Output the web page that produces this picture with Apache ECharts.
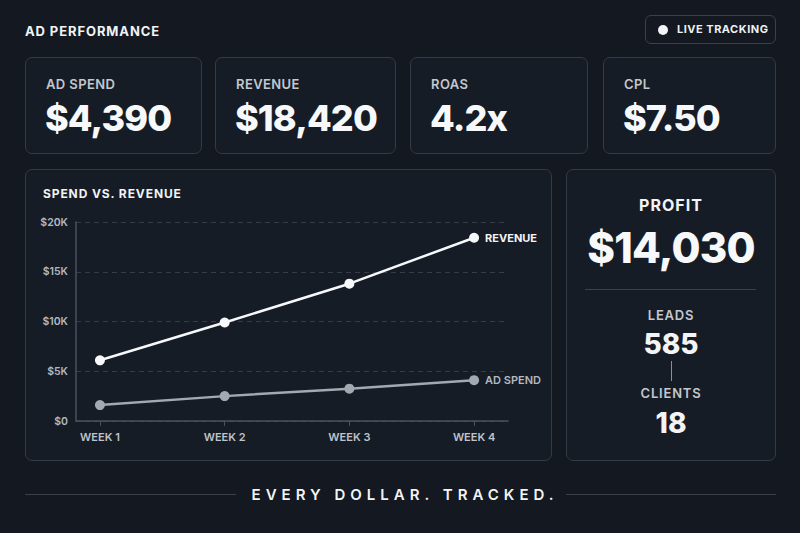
<!DOCTYPE html>
<html>
<head>
<meta charset="utf-8">
<script src="https://cdn.jsdelivr.net/npm/echarts@6/dist/echarts.min.js"></script>
<style>
  html,body{margin:0;padding:0;}
  body{width:800px;height:533px;overflow:hidden;background:#131821;font-family:Inter,"Noto Sans",sans-serif;color:#f3f4f6;position:relative;}
  .abs{position:absolute;}
  .card{position:absolute;box-sizing:border-box;border:1px solid #343b46;border-radius:7px;background:#161c26;}
  .klabel{position:absolute;left:20px;top:18px;font-size:13px;font-weight:600;color:#c3c7ce;letter-spacing:0.4px;line-height:16px;}
  .kval{position:absolute;left:19px;top:39px;font-size:36px;font-weight:800;color:#f7f8f9;line-height:42px;letter-spacing:-0.9px;}
  .center{position:absolute;left:0;width:100%;text-align:center;}
  #chart{position:absolute;left:0;top:0;width:800px;height:533px;}
</style>
</head>
<body>
<div class="abs" style="left:25px;top:23px;font-size:13px;font-weight:700;letter-spacing:0.9px;line-height:16px;color:#f1f3f5;">AD PERFORMANCE</div>

<div class="abs" style="left:645px;top:15px;width:131px;height:29px;box-sizing:border-box;border:1px solid #3a414c;border-radius:6px;">
  <div class="abs" style="left:12px;top:9px;width:10px;height:10px;border-radius:50%;background:#f3f4f6;"></div>
  <div class="abs" style="left:31px;top:6px;font-size:11px;font-weight:700;letter-spacing:0.5px;line-height:15px;color:#eef0f2;">LIVE TRACKING</div>
</div>

<div id="kpis"></div>

<div class="card" style="left:25px;top:169px;width:527px;height:292px;">
  <div class="abs" style="left:17px;top:16px;font-size:12px;font-weight:700;letter-spacing:0.9px;line-height:15px;color:#f1f3f5;">SPEND VS. REVENUE</div>
</div>

<div class="card" style="left:566px;top:169px;width:210px;height:292px;">
  <div class="center" style="top:25px;font-size:16px;font-weight:700;letter-spacing:1px;line-height:20px;">PROFIT</div>
  <div class="center" style="top:54px;font-size:42px;font-weight:800;line-height:48px;letter-spacing:-0.8px;color:#f7f8f9;">$14,030</div>
  <div class="abs" style="left:18px;top:119px;width:171px;height:1px;background:#3a414c;"></div>
  <div class="center" style="top:137px;font-size:13px;font-weight:600;letter-spacing:0.8px;line-height:16px;color:#c3c7ce;">LEADS</div>
  <div class="center" style="top:157px;font-size:28px;font-weight:800;line-height:34px;">585</div>
  <div class="abs" style="left:104px;top:191px;width:1px;height:20px;background:#8a9099;"></div>
  <div class="center" style="top:215px;font-size:13px;font-weight:600;letter-spacing:0.8px;line-height:16px;color:#c3c7ce;">CLIENTS</div>
  <div class="center" style="top:236px;font-size:28px;font-weight:800;line-height:34px;">18</div>
</div>

<div class="abs" style="left:25px;top:494px;width:211px;height:1px;background:#3a414c;"></div>
<div class="abs" style="left:566px;top:494px;width:210px;height:1px;background:#3a414c;"></div>
<div class="abs" style="left:240px;width:330px;top:485px;text-align:center;font-size:15px;font-weight:600;letter-spacing:5px;line-height:20px;color:#f3f4f6;">EVERY DOLLAR. TRACKED.</div>

<div id="chart"></div>

<script>
// ---- data ----
const kpiLabels = ['AD SPEND', 'REVENUE', 'ROAS', 'CPL'];
const kpiValues = ['$4,390', '$18,420', '4.2x', '$7.50'];
const weeks = ['WEEK 1', 'WEEK 2', 'WEEK 3', 'WEEK 4'];
const revenue = [6100, 9900, 13800, 18420];
const adSpend = [1600, 2500, 3250, 4100];
const yTickLabels = ['$0', '$5K', '$10K', '$15K', '$20K'];

// ---- KPI cards ----
const cardLefts = [25, 215, 410, 603];
const cardWidths = [177, 181, 178, 173];
const kpiWrap = document.getElementById('kpis');
kpiLabels.forEach((lab, i) => {
  const c = document.createElement('div');
  c.className = 'card';
  c.style.left = cardLefts[i] + 'px';
  c.style.top = '57px';
  c.style.width = cardWidths[i] + 'px';
  c.style.height = '97px';
  c.innerHTML = '<div class="klabel">' + lab + '</div><div class="kval">' + kpiValues[i] + '</div>';
  kpiWrap.appendChild(c);
});

// ---- chart ----
const chart = echarts.init(document.getElementById('chart'), null, {renderer: 'svg', width: 800, height: 533});
const idx = weeks.map((w, i) => i);
chart.setOption({
  backgroundColor: 'transparent',
  animation: false,
  grid: {left: 76, top: 222, width: 432, height: 199, containLabel: false},
  xAxis: {
    type: 'value',
    min: -0.192,
    max: 3.272,
    splitLine: {show: false},
    axisLine: {show: true, onZero: false, lineStyle: {color: '#4a515c', width: 1.5}},
    axisTick: {show: true, customValues: idx, length: 5, lineStyle: {color: '#4a515c'}},
    axisLabel: {
      customValues: idx,
      margin: 10,
      color: '#bfc3ca',
      fontFamily: 'Inter',
      fontSize: 11,
      fontWeight: 600,
      formatter: v => weeks[Math.round(v)] || ''
    }
  },
  yAxis: {
    type: 'value',
    min: 0,
    max: 20000,
    interval: 5000,
    axisLine: {show: true, onZero: false, lineStyle: {color: '#4a515c', width: 1.5}},
    axisTick: {show: false},
    splitLine: {show: true, lineStyle: {color: '#363c47', type: [5, 4], width: 1}},
    axisLabel: {
      margin: 8,
      color: '#b3b8c0',
      fontFamily: 'Inter',
      fontSize: 10.5,
      fontWeight: 600,
      formatter: v => yTickLabels[Math.round(v / 5000)]
    }
  },
  series: [
    {
      name: 'REVENUE',
      type: 'line',
      data: revenue.map((v, i) => [i, v]),
      symbol: 'circle',
      symbolSize: 10,
      lineStyle: {color: '#f7f8f9', width: 2.5},
      itemStyle: {color: '#f7f8f9'},
      endLabel: {show: true, formatter: 'REVENUE', color: '#f3f4f6', fontFamily: 'Inter', fontSize: 11, fontWeight: 700, distance: 11},
      z: 3
    },
    {
      name: 'AD SPEND',
      type: 'line',
      data: adSpend.map((v, i) => [i, v]),
      symbol: 'circle',
      symbolSize: 10,
      lineStyle: {color: '#a4a8b0', width: 2.5},
      itemStyle: {color: '#a4a8b0'},
      endLabel: {show: true, formatter: 'AD SPEND', color: '#b3b8c0', fontFamily: 'Inter', fontSize: 11, fontWeight: 600, distance: 11},
      z: 2
    }
  ]
});
</script>
</body>
</html>
